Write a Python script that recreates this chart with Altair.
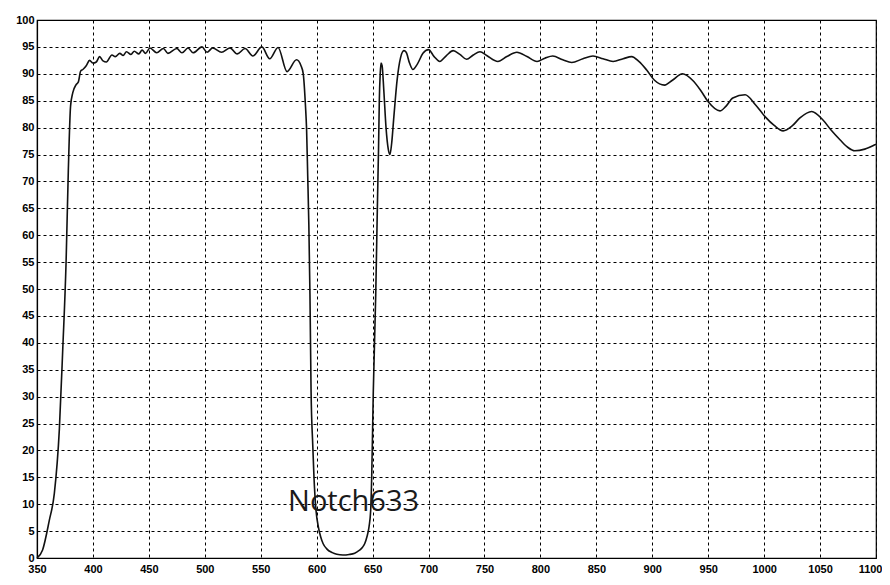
import altair as alt
import pandas as pd

wavelength = [
    350, 355, 361, 365.5, 370, 373, 376, 378, 380, 382, 385, 387, 389, 391, 394, 397,
    400, 403, 406, 409, 412, 417, 420, 424, 427, 430, 434, 437, 441, 444, 447,
    451, 457, 463, 467, 475, 479.6, 485, 489.5, 497.5, 502, 507, 515, 522.5, 529,
    536, 543, 551, 558, 565.5, 573.5, 582, 586, 588, 590, 591, 592, 593, 594, 595,
    596.5, 597.6, 599.4, 601.5, 603.5, 605.7, 609, 614, 618, 623.5, 629, 634, 638,
    641, 643, 645, 646.8, 648.3, 649.2, 650.6, 652.8, 654.5, 655.3, 656, 656.8,
    657.5, 658.5, 660, 662, 664, 665.5, 667, 669, 672, 675, 678, 680, 683, 686,
    690, 695, 700, 705, 710, 716, 722, 728, 734, 740, 746, 752, 762, 770, 779,
    788, 797, 804, 811, 820, 828, 838, 847, 856, 865, 874, 881.6, 888, 895, 902,
    911, 918, 927, 936, 943, 950, 960.5, 966, 972, 983, 992, 1001, 1009, 1017,
    1025, 1032, 1042.5, 1052.6, 1060, 1068, 1075, 1081, 1090, 1099, 1100,
]
transmittance = [
    0, 1.5, 7, 12, 24, 38.7, 55, 72, 84, 86.5, 88, 88.5, 90.5, 90.8, 91.5, 92.5,
    92.0, 92.2, 93.2, 92.4, 92.2, 93.5, 93.2, 93.8, 93.4, 94.1, 93.6, 94.2, 93.7, 94.4, 93.8,
    94.8, 93.9, 94.7, 93.8, 94.7, 93.9, 94.8, 93.9, 95.0, 94.0, 94.8, 94.0, 94.8, 93.7,
    94.7, 93.3, 95.0, 92.8, 94.9, 90.4, 92.6, 91.5, 90, 84, 79.6, 71, 62, 49, 31,
    21, 15, 8.9, 5.8, 4, 2.7, 1.7, 1.0, 0.7, 0.55, 0.65, 0.9, 1.4,
    2.0, 2.7, 4, 5.8, 8.9, 15, 30.7, 49, 67.8, 76, 85, 90,
    92, 91.5, 87, 80, 76, 75, 77, 82, 89, 93, 94.3, 94, 92, 90.8,
    91.8, 93.8, 94.5, 93.2, 92.3, 93.4, 94.3, 93.6, 92.7, 93.5, 94.1, 93.4, 92.3, 93.2, 94.0,
    93.2, 92.3, 92.9, 93.3, 92.6, 92.1, 92.8, 93.3, 92.8, 92.3, 92.8, 93.2, 92.3, 90.7, 88.8,
    87.9, 88.8, 90.0, 88.8, 87, 84.8, 83.1, 84, 85.5, 86.1, 84.3, 82, 80.4, 79.4,
    80.3, 81.8, 83, 81.4, 79.5, 77.7, 76.3, 75.7, 76, 76.8, 76.9,
]

x_ticks = list(range(350, 1101, 50))
y_ticks = list(range(0, 101, 5))

label_text = ["Notch633"]
label_x = [633]
label_y = [10.4]

df = pd.DataFrame({"wl": wavelength, "t": transmittance})
df_label = pd.DataFrame({"x": label_x, "y": label_y, "text": label_text})

x_scale = alt.Scale(domain=[350, 1100], nice=False, zero=False)
y_scale = alt.Scale(domain=[0, 100], nice=False)

x_axis = alt.Axis(
    values=x_ticks, format="d", title=None, grid=True, gridDash=[3, 3],
    gridColor="#000000", gridOpacity=1, gridWidth=1, ticks=False,
    labelFont="Liberation Sans", labelFontWeight="bold", labelFontSize=11,
    labelColor="#000000", labelPadding=5, domainColor="#000000", domainWidth=1.2,
    labelFlush=False, labelOverlap=False,
    labelAlign=alt.ExprRef(expr="datum.value == 1100 ? 'right' : 'center'"),
    labelOffset=alt.ExprRef(expr="datum.value == 1100 ? 6 : 0"),
)
y_axis = alt.Axis(
    values=y_ticks, format="d", title=None, grid=True, gridDash=[3, 3],
    gridColor="#000000", gridOpacity=1, gridWidth=1, ticks=False,
    labelFont="Liberation Sans", labelFontWeight="bold", labelFontSize=11,
    labelColor="#000000", labelPadding=3, domainColor="#000000", domainWidth=1.2,
    labelFlush=False, labelOverlap=False,
)

line = alt.Chart(df).mark_line(
    color="#111111", strokeWidth=1.6, interpolate="monotone"
).encode(
    x=alt.X("wl:Q", scale=x_scale, axis=x_axis),
    y=alt.Y("t:Q", scale=y_scale, axis=y_axis),
)

text = alt.Chart(df_label).mark_text(
    font="Open Sans", fontSize=29, color="#1a1a1a", align="center", baseline="middle"
).encode(
    x=alt.X("x:Q", scale=x_scale, axis=x_axis),
    y=alt.Y("y:Q", scale=y_scale, axis=y_axis),
    text="text:N",
)

chart = alt.layer(line, text).properties(
    width=839, height=538,
    autosize=alt.AutoSizeParams(type="none"),
    padding={"left": 29, "top": 12, "right": 6, "bottom": 20},
    background="#ffffff",
).configure_view(stroke="#000000", strokeWidth=1.2)

chart.save("out.html", embed_options={"renderer": "svg", "actions": False})
